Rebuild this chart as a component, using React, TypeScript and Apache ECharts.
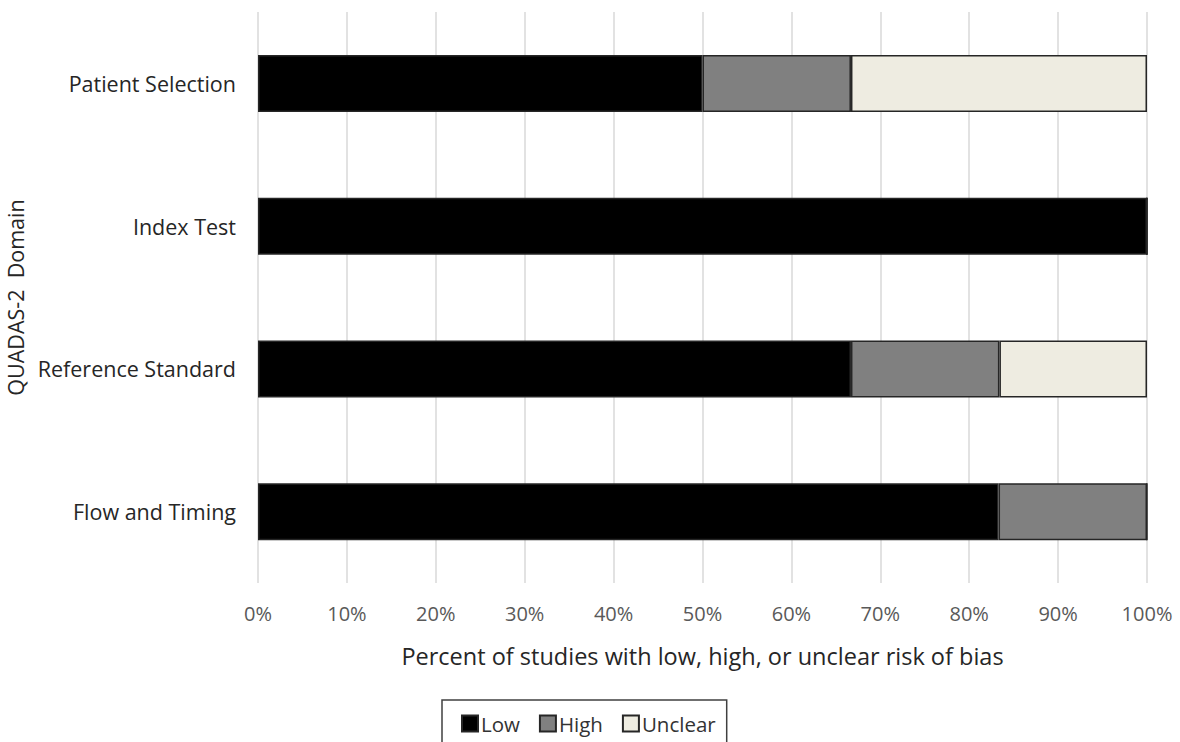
import React, { useEffect, useRef } from "react";
import * as echarts from "echarts";

const categories = ["Patient Selection", "Index Test", "Reference Standard", "Flow and Timing"];
const lowValues = [50, 100, 66.7, 83.3];
const highValues = [16.7, 0, 16.7, 16.7];
const unclearValues = [33.3, 0, 16.6, 0];
const seriesNames = ["Low", "High", "Unclear"];
const seriesColors = ["#000000", "#808080", "#EEECE1"];

export default function App() {
  const ref = useRef<HTMLDivElement>(null);
  useEffect(() => {
    if (!ref.current) return;
    const chart = echarts.init(ref.current, undefined, { renderer: "svg" });
    const font = "Open Sans";
    const data = [lowValues, highValues, unclearValues];
    chart.setOption({
      animation: false,
      backgroundColor: "#ffffff",
      textStyle: { fontFamily: font },
      grid: { left: 258, right: 33, top: 12, bottom: 159, containLabel: false, outerBoundsMode: "none" },
      legend: {
        data: seriesNames,
        top: 700,
        left: 442,
        itemWidth: 16,
        itemHeight: 16,
        itemGap: 19,
        padding: [13, 11, 40, 19],
        borderColor: "#404040",
        borderWidth: 1.5,
        textStyle: { fontFamily: font, fontSize: 20.5, color: "#333333", padding: [0, 0, 0, -2] },
        icon: "rect",
      },
      xAxis: {
        type: "value",
        min: 0,
        max: 100,
        interval: 10,
        name: "Percent of studies with low, high, or unclear risk of bias",
        nameLocation: "middle",
        nameGap: 61,
        nameTextStyle: { fontFamily: font, fontSize: 23.5, color: "#262626" },
        axisLabel: { formatter: "{value}%", fontSize: 20, color: "#595959", margin: 20 },
        axisLine: { show: false },
        axisTick: { show: false },
        splitLine: { show: true, lineStyle: { color: "#d9d9d9", width: 1.5 } },
      },
      yAxis: {
        type: "category",
        data: categories,
        inverse: true,
        name: "QUADAS-2  Domain",
        nameLocation: "middle",
        nameRotate: 90,
        nameGap: 222,
        nameTextStyle: { fontFamily: font, fontSize: 21.5, color: "#262626" },
        axisLabel: { fontSize: 21.5, color: "#262626", margin: 22 },
        axisLine: { show: false },
        axisTick: { show: false },
        splitLine: { show: false },
      },
      series: seriesNames.map((name, i) => ({
        name,
        type: "bar",
        stack: "total",
        barWidth: 57,
        data: data[i],
        itemStyle: { color: seriesColors[i], borderColor: "#262626", borderWidth: 1.5 },
      })),
    });
    return () => chart.dispose();
  }, []);
  return (
    <div
      ref={ref}
      style={{ position: "fixed", left: 0, top: 0, width: 1180, height: 742 }}
    />
  );
}
